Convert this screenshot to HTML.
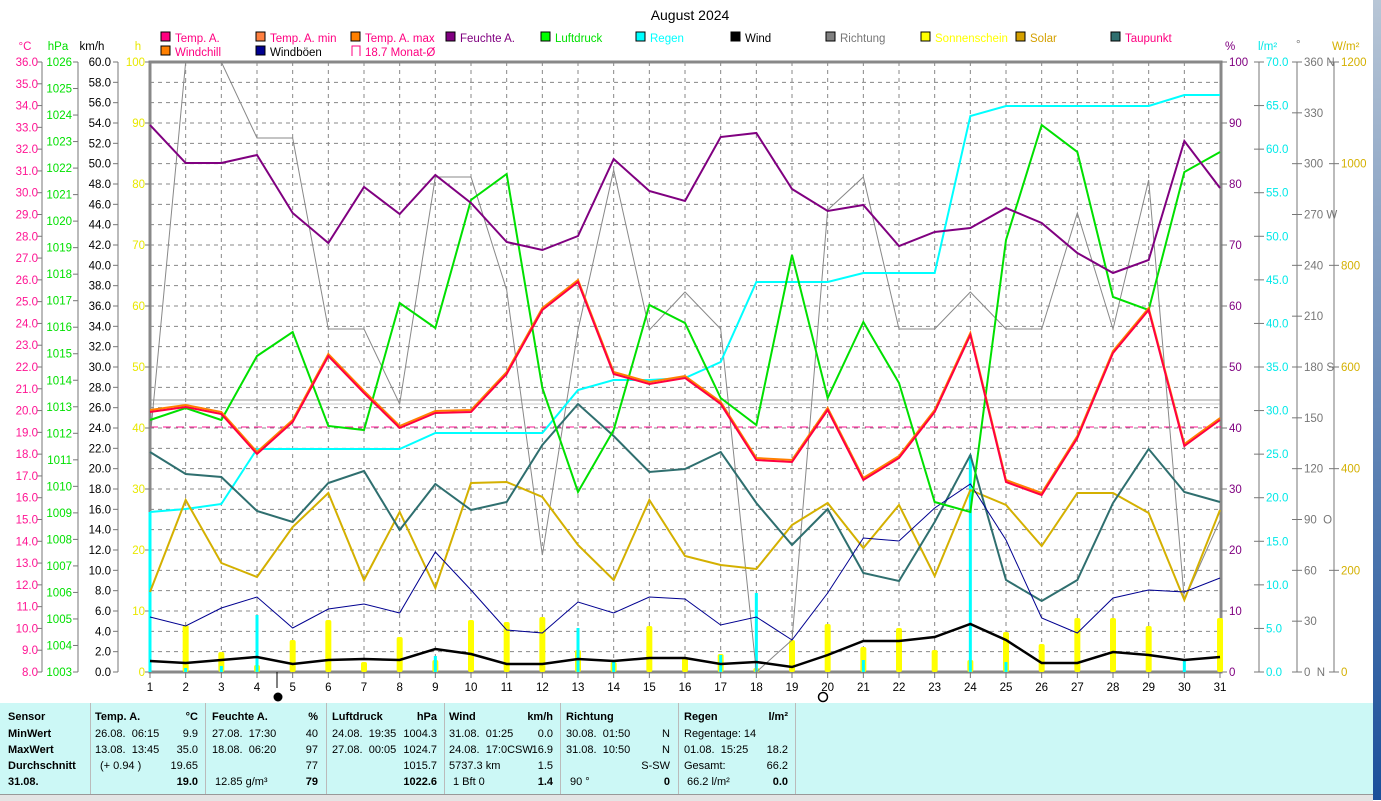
<!DOCTYPE html>
<html><head><meta charset="utf-8"><style>
body{margin:0;width:1381px;height:800px;overflow:hidden;background:#fff;font-family:"Liberation Sans",sans-serif;position:relative}
#tbl{position:absolute;left:0;top:703px;width:1373px;height:91px;background:#ccf8f6}
#tbl div{position:absolute;font-size:11px;white-space:nowrap}
.b{font-weight:bold}
#strip{position:absolute;left:1373px;top:0;width:8px;height:800px;background:linear-gradient(#b8c6d6,#1a4f9a)}
#foot{position:absolute;left:0;top:794px;width:1373px;height:6px;background:#e4e4e4;border-top:1px solid #999}
</style></head><body>
<svg id="s" width="1381" height="703" style="position:absolute;left:0;top:0" font-family="Liberation Sans, sans-serif" font-size="11.5"></svg>
<div id="tbl"></div>
<div id="foot"></div>
<div id="strip"></div>
<script>
const s=document.getElementById('s');let h='';
const X=d=>150+(d-1)*35.667, T=672,TOP=62;
h+='<text x="690" y="20" text-anchor="middle" font-size="14">August 2024</text>';
for(let i=1;i<30;i++){h+=`<line x1="150" x2="1221" y1="${TOP+i*20.333}" y2="${TOP+i*20.333}" stroke="#888" stroke-dasharray="4,4"/>`;}
for(let d=2;d<=30;d++){h+=`<line x1="${X(d)}" x2="${X(d)}" y1="62" y2="672" stroke="#888" stroke-dasharray="4,4"/>`;}
h+='<line x1="150" x2="1221" y1="400" y2="400" stroke="#999"/><line x1="150" x2="1221" y1="404" y2="404" stroke="#ccc"/>';
h+='<rect x="150" y="62" width="1071" height="610" fill="none" stroke="#888" stroke-width="3"/>';
h+='<line x1="150" x2="1221" y1="427" y2="427" stroke="#ff1493" stroke-dasharray="8,5"/>';
function axis(x,col,vals,anchorX){h+=`<line x1="${x}" x2="${x}" y1="62" y2="672" stroke="#777"/>`;vals.forEach(([y,t])=>{h+=`<line x1="${x-5}" x2="${x}" y1="${y}" y2="${y}" stroke="#777"/><text x="${anchorX}" y="${y+4}" text-anchor="end" fill="${col}">${t}</text>`;});}
let v=[];for(let i=0;i<=28;i++)v.push([T-i*610/28,(8+i).toFixed(1)]);axis(42,'#ff1493',v,38);
v=[];for(let i=0;i<=23;i++)v.push([T-i*610/23,1003+i]);axis(78,'#00e000',v,72);
v=[];for(let i=0;i<=30;i++)v.push([T-i*610/30,(i*2).toFixed(1)]);axis(118,'#000',v,111);
for(let i=0;i<=10;i++){h+=`<line x1="145" x2="150" y1="${T-i*61}" y2="${T-i*61}" stroke="#777"/><text x="145" y="${T-i*61+4}" text-anchor="end" fill="#e8e800">${i*10}</text>`;}
h+='<text x="25" y="50" text-anchor="middle" fill="#ff1493">°C</text><text x="58" y="50" text-anchor="middle" fill="#00e000">hPa</text><text x="92" y="50" text-anchor="middle">km/h</text><text x="138" y="50" text-anchor="middle" fill="#e8e800">h</text>';
for(let i=0;i<=10;i++){h+=`<line x1="1221" x2="1227" y1="${T-i*61}" y2="${T-i*61}" stroke="#777"/><text x="1229" y="${T-i*61+4}" fill="#800080">${i*10}</text>`;}
function raxis(x,col,vals){h+=`<line x1="${x}" x2="${x}" y1="62" y2="672" stroke="#777"/>`;vals.forEach(([y,t])=>{h+=`<line x1="${x-5}" x2="${x+5}" y1="${y}" y2="${y}" stroke="#777"/><text x="${x+7}" y="${y+4}" fill="${col}">${t}</text>`;});}
v=[];for(let i=0;i<=14;i++)v.push([T-i*610/14,(i*5).toFixed(1)]);raxis(1259,'#00e8e8',v);
v=[];const dl={0:'0 &#160;N',90:'90 &#160;O',180:'180 S',270:'270 W',360:'360 N'};for(let i=0;i<=12;i++)v.push([T-i*610/12,dl[i*30]||i*30]);raxis(1297,'#777',v);
v=[];for(let i=0;i<=6;i++)v.push([T-i*610/6,i*200]);raxis(1334,'#d4b000',v);
h+='<text x="1225" y="50" fill="#800080">%</text><text x="1258" y="50" fill="#00e8e8">l/m²</text><text x="1296" y="48" fill="#777">°</text><text x="1332" y="50" fill="#d4b000">W/m²</text>';
const lg=[[160,42,'#ff0080','Temp. A.'],[255,42,'#ff8040','Temp. A. min'],[350,42,'#ff8000','Temp. A. max'],[445,42,'#800080','Feuchte A.'],[540,42,'#00ff00','Luftdruck'],[635,42,'#00ffff','Regen'],[730,42,'#000000','Wind'],[825,42,'#808080','Richtung'],[920,42,'#ffff00','Sonnenschein'],[1015,42,'#d4a000','Solar'],[1110,42,'#2f6f6f','Taupunkt'],[160,56,'#ff8000','Windchill'],[255,56,'#000090','Windböen']];
const tc={'Temp. A.':'#ff0080','Temp. A. min':'#ff0080','Temp. A. max':'#ff0080','Feuchte A.':'#800080','Luftdruck':'#00e000','Regen':'#00ffff','Wind':'#000','Richtung':'#777','Sonnenschein':'#ffff00','Solar':'#d4a000','Taupunkt':'#ff0080','Windchill':'#ff0080','Windböen':'#000'};
lg.forEach(([x,y,c,t])=>{h+=`<rect x="${x+1}" y="${y-10}" width="9" height="9" fill="${c}" stroke="#000"/><text x="${x+15}" y="${y}" fill="${tc[t]}">${t}</text>`;});
h+='<path d="M352 56V46h8v10" fill="none" stroke="#ff0080"/><text x="365" y="56" fill="#ff0080">18.7 Monat-Ø</text>';
const sun={2:625,3:652,4:665,5:640,6:620,7:662,8:637,9:660,10:620,11:622,12:617,13:650,14:662,15:626,16:658,17:654,18:668,19:640,20:624,21:647,22:628,23:650,24:660,25:632,26:644,27:618,28:618,29:626,31:618};
for(const d in sun)h+=`<rect x="${X(+d)-3}" y="${sun[d]}" width="6" height="${672-sun[d]}" fill="#ffff00" rx="2"/>`;
const rn={1:512,2:668,3:666,4:615,9:656,13:628,14:662,17:655,18:593,21:660,24:455,25:662,30:660};
for(const d in rn)h+=`<rect x="${X(+d)-1.5}" y="${rn[d]}" width="3" height="${672-rn[d]}" fill="#00ffff"/>`;
function line(arr,col,w){h+=`<polyline fill="none" stroke="${col}" stroke-width="${w}" points="${arr.map((y,i)=>X(i+1)+','+y).join(' ')}"/>`;}
line([440,62,62,138,138,329,329,404,177,177,290,555,330,170,330,292,329,672,640,210,177,329,329,292,329,329,213,329,180,600,520],'#888',1);
line([512,509,504,449,449,449,449,449,433,433,433,433,390,380,380,378,362,282,282,282,273,273,273,116,106,106,106,106,106,95,95],'#00ffff',2);
line([592,500,563,577,527,493,580,512,588,483,482,497,545,580,500,556,565,569,525,503,548,505,576,490,505,546,493,493,513,600,510],'#d4b000',2);
line([452,474,477,511,522,483,471,530,484,510,502,445,404,436,472,469,452,503,545,509,573,581,522,455,580,601,580,503,449,492,502],'#2f6f6f',2);
line([617,626,608,597,628,609,604,613,552,590,630,633,602,613,597,599,625,617,640,593,538,541,508,484,540,618,633,598,590,592,578],'#000090',1);
line([661,663,660,657,664,660,659,660,649,654,664,664,659,661,658,658,664,662,667,655,641,641,637,624,640,663,663,652,655,660,657],'#000',2.5);
line([420,408,420,356,332,426,430,303,328,200,174,388,492,430,305,323,398,425,255,398,322,383,502,512,240,125,152,297,310,172,152],'#00e000',2);
const tp=[412,407,414,454,422,356,393,428,413,412,374,310,282,374,384,378,404,460,462,410,480,458,412,335,482,495,438,353,310,446,420];
line(tp.map(y=>y-2),'#ff8000',2);line(tp,'#ff0040',2);
line([125,163,163,155,213,243,187,214,175,203,242,250,236,159,191,201,137,133,189,211,205,246,232,228,208,223,253,273,260,141,188],'#800080',2);
for(let d=1;d<=31;d++)h+=`<line x1="${X(d)}" x2="${X(d)}" y1="672" y2="678" stroke="#777"/><text x="${X(d)}" y="691" text-anchor="middle">${d}</text>`;
h+='<line x1="277" x2="277" y1="672" y2="688" stroke="#000"/><circle cx="278" cy="697" r="4.5" fill="#000"/><circle cx="823" cy="697" r="4.5" fill="none" stroke="#000" stroke-width="1.5"/>';
s.innerHTML=h;
const t=document.getElementById('tbl');let g='';
function c(x,y,txt,b,al){g+=`<div style="left:${x}px;top:${y}px;${al?'transform:translateX(-100%)':''}" class="${b?'b':''}">${txt}</div>`;}
const ys=[8,25,41,57,73];
['Sensor','MinWert','MaxWert','Durchschnitt','31.08.'].forEach((v,i)=>c(8,ys[i],v,1));
[90,205,326,444,560,678,795].forEach(x=>g+=`<div style="left:${x}px;top:0;width:1px;height:91px;background:#bbb"></div>`);
c(95,ys[0],'Temp. A.',1);c(198,ys[0],'°C',1,1);c(95,ys[1],'26.08.&#160; 06:15');c(198,ys[1],'9.9',0,1);c(95,ys[2],'13.08.&#160; 13:45');c(198,ys[2],'35.0',0,1);c(100,ys[3],'(+ 0.94 )');c(198,ys[3],'19.65',0,1);c(198,ys[4],'19.0',1,1);
c(212,ys[0],'Feuchte A.',1);c(318,ys[0],'%',1,1);c(212,ys[1],'27.08.&#160; 17:30');c(318,ys[1],'40',0,1);c(212,ys[2],'18.08.&#160; 06:20');c(318,ys[2],'97',0,1);c(318,ys[3],'77',0,1);c(215,ys[4],'12.85 g/m³');c(318,ys[4],'79',1,1);
c(332,ys[0],'Luftdruck',1);c(437,ys[0],'hPa',1,1);c(332,ys[1],'24.08.&#160; 19:35');c(437,ys[1],'1004.3',0,1);c(332,ys[2],'27.08.&#160; 00:05');c(437,ys[2],'1024.7',0,1);c(437,ys[3],'1015.7',0,1);c(437,ys[4],'1022.6',1,1);
c(449,ys[0],'Wind',1);c(553,ys[0],'km/h',1,1);c(449,ys[1],'31.08.&#160; 01:25');c(553,ys[1],'0.0',0,1);c(449,ys[2],'24.08.&#160; 17:0CSW');c(553,ys[2],'16.9',0,1);c(449,ys[3],'5737.3 km');c(553,ys[3],'1.5',0,1);c(453,ys[4],'1 Bft 0');c(553,ys[4],'1.4',1,1);
c(566,ys[0],'Richtung',1);c(566,ys[1],'30.08.&#160; 01:50');c(670,ys[1],'N',0,1);c(566,ys[2],'31.08.&#160; 10:50');c(670,ys[2],'N',0,1);c(670,ys[3],'S-SW',0,1);c(570,ys[4],'90 °');c(670,ys[4],'0',1,1);
c(684,ys[0],'Regen',1);c(788,ys[0],'l/m²',1,1);c(684,ys[1],'Regentage: 14');c(684,ys[2],'01.08.&#160; 15:25');c(788,ys[2],'18.2',0,1);c(684,ys[3],'Gesamt:');c(788,ys[3],'66.2',0,1);c(687,ys[4],'66.2 l/m²');c(788,ys[4],'0.0',1,1);
t.innerHTML=g;
</script>
</body></html>
